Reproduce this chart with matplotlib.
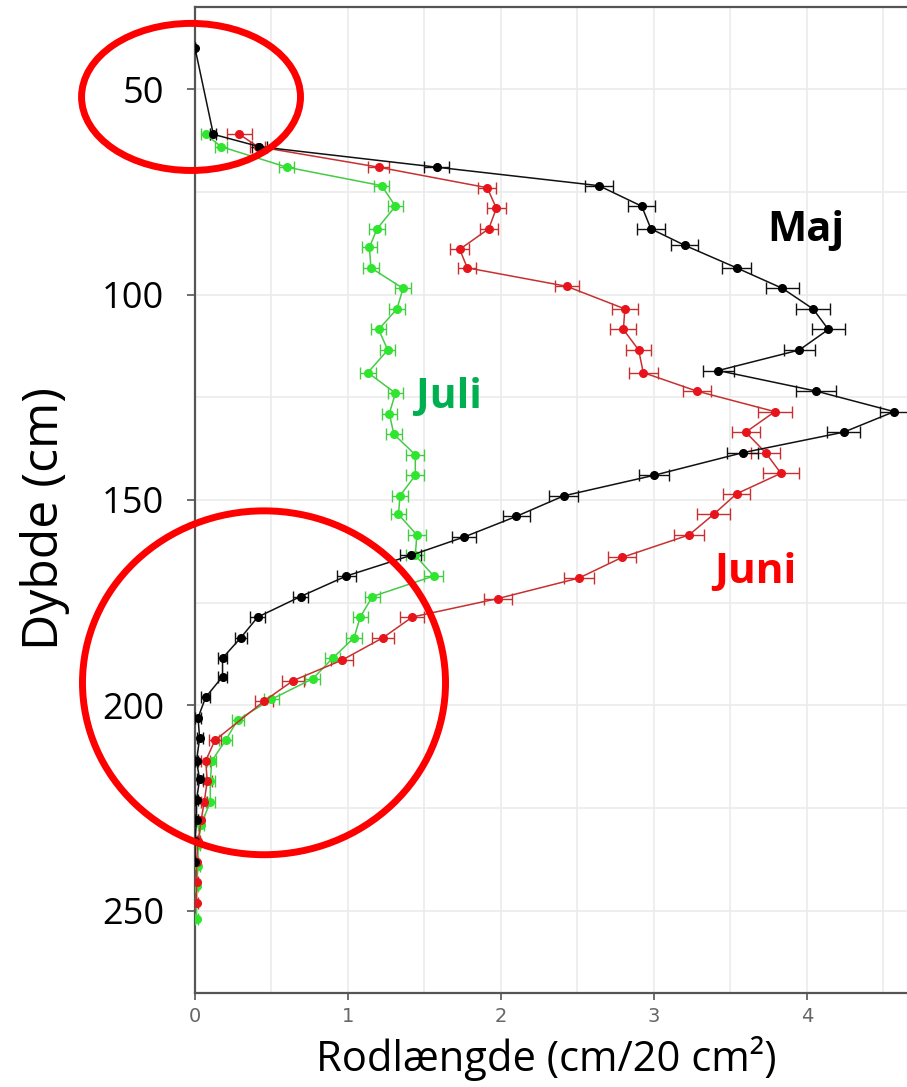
import matplotlib.pyplot as plt
from matplotlib.patches import Ellipse
from matplotlib.ticker import MultipleLocator

# Dybde (cm) og rodlængde (cm/20 cm2) for hver måned
maj_dybde = [40, 61, 64, 69, 73.5, 78.5, 84, 88, 93.5, 98.5, 103.5, 108.5, 113.5, 118.5,
             123.5, 128.5, 133.5, 138.5, 144, 149, 154, 159, 163.5, 168.5, 173.5, 178.5,
             183.5, 188.5, 193, 198, 203, 208, 213.5, 218, 223, 228, 233, 238]
maj_rod = [0.0, 0.12, 0.42, 1.58, 2.64, 2.92, 2.98, 3.20, 3.54, 3.84, 4.04, 4.14, 3.95, 3.42,
           4.06, 4.57, 4.24, 3.58, 3.00, 2.41, 2.10, 1.76, 1.41, 0.99, 0.69, 0.41,
           0.30, 0.18, 0.18, 0.07, 0.02, 0.03, 0.01, 0.03, 0.01, 0.01, 0.0, 0.0]
maj_fejl = [0, 0.02, 0.05, 0.08, 0.09, 0.09, 0.09, 0.09, 0.095, 0.11, 0.11, 0.11, 0.10, 0.10,
            0.13, 0.09, 0.11, 0.10, 0.10, 0.095, 0.09, 0.08, 0.07, 0.06, 0.05, 0.05,
            0.04, 0.03, 0.03, 0.03, 0.02, 0.02, 0.01, 0.02, 0.01, 0.01, 0.0, 0.0]

juni_dybde = [61, 64, 69, 74, 79, 84, 89, 93.5, 98, 103.5, 108.5, 113.5, 119, 123.5, 128.5,
              133.5, 138.5, 143.5, 148.5, 153.5, 158.5, 164, 169, 174, 178.5, 183.5, 189,
              194, 199, 208.5, 213.5, 218.5, 223.5, 228, 233, 238, 243, 248]
juni_rod = [0.29, 0.41, 1.20, 1.91, 1.97, 1.92, 1.73, 1.78, 2.43, 2.81, 2.80, 2.90, 2.93, 3.28,
            3.79, 3.60, 3.73, 3.83, 3.54, 3.39, 3.23, 2.79, 2.51, 1.98, 1.42, 1.23, 0.96,
            0.64, 0.45, 0.13, 0.07, 0.08, 0.06, 0.04, 0.02, 0.01, 0.01, 0.01]
juni_fejl = [0.08, 0.05, 0.07, 0.06, 0.06, 0.06, 0.06, 0.06, 0.08, 0.085, 0.085, 0.08, 0.095,
             0.09, 0.11, 0.09, 0.095, 0.12, 0.09, 0.11, 0.10, 0.09, 0.10, 0.09, 0.08, 0.07,
             0.07, 0.07, 0.06, 0.04, 0.03, 0.03, 0.02, 0.02, 0.01, 0.01, 0.01, 0.01]

juli_dybde = [61, 64, 69, 73.5, 78.5, 84, 88.5, 93.5, 98.5, 103.5, 108.5, 113.5, 119, 124, 129,
              134, 139, 144, 149, 153.5, 158.5, 163.5, 168.5, 173.5, 178.5, 183.5, 188.5,
              193.5, 198.5, 203.5, 208.5, 213.5, 218.5, 223.5, 229, 234, 239, 244, 252]
juli_rod = [0.07, 0.17, 0.60, 1.22, 1.31, 1.19, 1.14, 1.15, 1.36, 1.32, 1.20, 1.26, 1.13, 1.31,
            1.27, 1.30, 1.44, 1.44, 1.34, 1.33, 1.45, 1.44, 1.56, 1.16, 1.08, 1.04, 0.90,
            0.77, 0.50, 0.28, 0.20, 0.11, 0.10, 0.10, 0.04, 0.02, 0.02, 0.01, 0.01]
juli_fejl = [0.03, 0.04, 0.05, 0.05, 0.05, 0.05, 0.05, 0.05, 0.05, 0.05, 0.05, 0.05, 0.05, 0.05,
             0.05, 0.05, 0.06, 0.06, 0.05, 0.05, 0.06, 0.06, 0.06, 0.05, 0.05, 0.05, 0.05,
             0.05, 0.05, 0.04, 0.04, 0.03, 0.03, 0.03, 0.02, 0.01, 0.01, 0.01, 0.01]

fig = plt.figure(figsize=(9.07, 10.87), dpi=100)
ax = fig.add_axes([0.215, 0.0865, 0.785, 0.9071])

# grid (0.5 lodret, 25 cm vandret)
ax.xaxis.set_major_locator(MultipleLocator(1))
ax.xaxis.set_minor_locator(MultipleLocator(0.5))
ax.yaxis.set_major_locator(MultipleLocator(50))
ax.yaxis.set_minor_locator(MultipleLocator(25))
ax.grid(True, which='both', color='#ebebeb', linewidth=1.2, zorder=0)
ax.set_axisbelow(True)

serier = [
    (juli_rod, juli_dybde, juli_fejl, '#2ee62e', '#44cc44'),
    (juni_rod, juni_dybde, juni_fejl, '#e8141c', '#c83030'),
    (maj_rod, maj_dybde, maj_fejl, '#000000', '#111111'),
]
for rod, dybde, fejl, mfarve, lfarve in serier:
    ax.errorbar(rod, dybde, xerr=fejl, color=lfarve, ecolor=lfarve, linewidth=1.1,
                elinewidth=1.0, capsize=4, capthick=1.0, marker='o', markersize=5.5,
                markerfacecolor=mfarve, markeredgecolor=mfarve, zorder=3)

ax.set_xlim(0, 4.654)
ax.set_ylim(270, 30)

for side in ['top', 'left', 'bottom']:
    ax.spines[side].set_color('#555555')
    ax.spines[side].set_linewidth(1.6)
ax.spines['right'].set_visible(False)

ax.tick_params(axis='x', which='major', length=5, width=1.2, color='#555555',
               labelsize=14, labelcolor='#666666', pad=5)
ax.tick_params(axis='y', which='major', length=6, width=1.2, color='#555555',
               labelsize=26, labelcolor='black', pad=16)
ax.tick_params(which='minor', length=0)
for lab in ax.get_yticklabels():
    lab.set_fontfamily('Open Sans')

ax.set_ylabel('Dybde (cm)', fontsize=36, fontfamily='Open Sans', va='center')
ax.yaxis.set_label_coords(-0.21, 0.481)
ax.set_xlabel('Rodlængde (cm/20 cm²)', fontsize=30, fontfamily='Open Sans', va='center')
ax.xaxis.set_label_coords(0.493, -0.066)

ax.text(3.99, 87.0, 'Maj', fontsize=30, fontweight='bold', color='black',
        fontfamily='Open Sans', ha='center', va='baseline', zorder=5)
ax.text(1.66, 127.6, 'Juli', fontsize=29.5, fontweight='bold', color='#00b050',
        fontfamily='Open Sans', ha='center', va='baseline', zorder=5)
ax.text(3.66, 170.2, 'Juni', fontsize=30.5, fontweight='bold', color='#ff0000',
        fontfamily='Open Sans', ha='center', va='baseline', zorder=5)

# røde ringe
ax.add_patch(Ellipse((-0.026, 51.9), 1.431, 35.8, fill=False, edgecolor='#ff0000',
                     linewidth=5, clip_on=False, zorder=6))
ax.add_patch(Ellipse((0.451, 194.5), 2.373, 83.7, fill=False, edgecolor='#ff0000',
                     linewidth=5, clip_on=False, zorder=6))

plt.savefig('out.png', dpi=100)
